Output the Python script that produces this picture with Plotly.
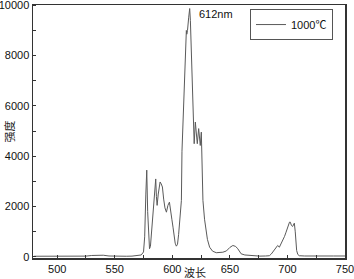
import plotly.graph_objects as go

wavelength = [480, 490, 500, 510, 520, 525, 530, 535, 540, 545, 550, 555, 560, 565, 570, 573,
              575, 576, 577, 577.8, 578.6, 579.4, 580.2, 581, 582, 583.3, 584.5, 585.6, 586.2,
              586.8, 587.8, 588.6, 589.4, 590.4, 591.4, 592.5, 593.6, 594.9, 596.2, 597.5,
              598.6, 599.6, 600.6, 601.6, 602.5, 603.5, 604.5, 605.5, 606.5, 607.9, 608.4,
              609.5, 610.5, 611.5, 612.2, 612.6, 613.2, 614.2, 615.1, 615.7, 616.5, 617.3,
              618, 619, 620, 620.9, 621.7, 622.9, 624.3, 625.2, 626, 626.6, 628, 628.9, 630.5,
              632.4, 635, 638.2, 641, 643.9, 647, 650, 652.6, 655, 656.9, 658.5, 659.8, 663,
              667, 672, 676, 681, 684.3, 686, 687.2, 689, 690, 691.5, 693, 694.5, 695.8, 697.5,
              698.8, 700.5, 701.8, 702.5, 703.5, 704.5, 705.2, 706, 706.8, 707.4, 708, 709,
              710.3, 715, 720, 730, 740, 750]
intensity = [30, 25, 20, 25, 30, 35, 60, 80, 70, 40, 30, 25, 30, 35, 50, 80,
             200, 800, 2500, 3450, 1800, 700, 330, 420, 1000, 1850, 2400, 3100, 2400,
             2050, 2500, 2900, 2980, 2900, 2780, 2300, 1950, 1780, 2050, 2180,
             1900, 1500, 1185, 800, 550, 430, 500, 900, 1500, 2250, 4200,
             5600, 7000, 8300, 9000, 8850, 9000, 9500, 9870, 9400, 8000, 6500,
             5300, 4500, 5360, 4800, 4500, 5100, 4430, 4960, 3500, 2250, 1500, 1185, 700,
             390, 230, 170, 175, 190, 240, 380, 457, 420, 326, 200, 127, 80,
             60, 45, 35, 40, 50, 120, 190, 300, 400, 457, 390, 520, 656, 820,
             986, 1200, 1384, 1384, 1250, 1213, 1300, 1344, 1000, 600, 258, 100,
             50, 40, 35, 35, 40, 40]

series_name = "1000℃"
peak_label = "612nm"
x_title = "波长"
y_title = "强度"
y_tick_values = [0, 2000, 4000, 6000, 8000, 10000]
x_tick_values = [500, 550, 600, 650, 700, 750]

axis_color = "#333333"
tick_font = dict(family="Liberation Sans, Arial, sans-serif", size=11, color="#111111")

fig = go.Figure()
fig.add_trace(go.Scatter(x=wavelength, y=intensity, mode="lines", name=series_name,
                         line=dict(color="#5a5a5a", width=1)))

fig.update_layout(
    width=354, height=279,
    margin=dict(l=33, r=9, t=5, b=21),
    paper_bgcolor="white", plot_bgcolor="white",
    showlegend=True,
    legend=dict(x=0.9615, y=0.984, xanchor="right", yanchor="top",
                bgcolor="white", bordercolor="#555555", borderwidth=1,
                font=dict(family="Liberation Sans, Noto Sans CJK SC, sans-serif", size=11, color="#111111"),
                tracegroupgap=0, itemwidth=30),
    xaxis=dict(range=[479, 750], tickmode="array", tickvals=x_tick_values, ticks="", showgrid=False, zeroline=False,
               showline=True, linecolor=axis_color, linewidth=1.5, mirror=True, automargin=False,
               tickfont=tick_font, ticklabelstandoff=0, tickformat="d", ticklabeloverflow="allow",
               minor=dict(tickmode="linear", dtick=25, tick0=525, ticks="inside", ticklen=3, tickcolor=axis_color, tickwidth=1, showgrid=False)),
    yaxis=dict(range=[-40, 10010], tickmode="array", tickvals=y_tick_values, ticks="", showgrid=False, zeroline=False,
               showline=True, linecolor=axis_color, linewidth=1.5, mirror=True, automargin=False,
               tickfont=tick_font, ticklabelstandoff=0, tickformat="d", ticklabeloverflow="allow",
               minor=dict(tickmode="linear", dtick=1000, tick0=1000, ticks="inside", ticklen=3, tickcolor=axis_color, tickwidth=1, showgrid=False)),
    annotations=[
        dict(x=621.7, y=9660, xref="x", yref="y", text=peak_label, showarrow=False,
             xanchor="left", yanchor="middle",
             font=dict(family="Liberation Sans, Arial, sans-serif", size=11, color="#111111")),
        dict(x=0.52, y=0, xref="paper", yref="paper", text=x_title, showarrow=False,
             xanchor="center", yanchor="middle", yshift=-14,
             font=dict(family="Noto Sans CJK SC, sans-serif", size=11, color="#222222")),
        dict(x=0, y=0.5, xref="paper", yref="paper", text=y_title, showarrow=False,
             xanchor="center", yanchor="middle", xshift=-25, textangle=-90,
             font=dict(family="Noto Sans CJK SC, sans-serif", size=11, color="#222222")),
    ],
)

fig.write_html("out.html", config={"displayModeBar": False, "staticPlot": True},
               post_script="document.body.style.margin='0';document.body.style.overflow='hidden';")
